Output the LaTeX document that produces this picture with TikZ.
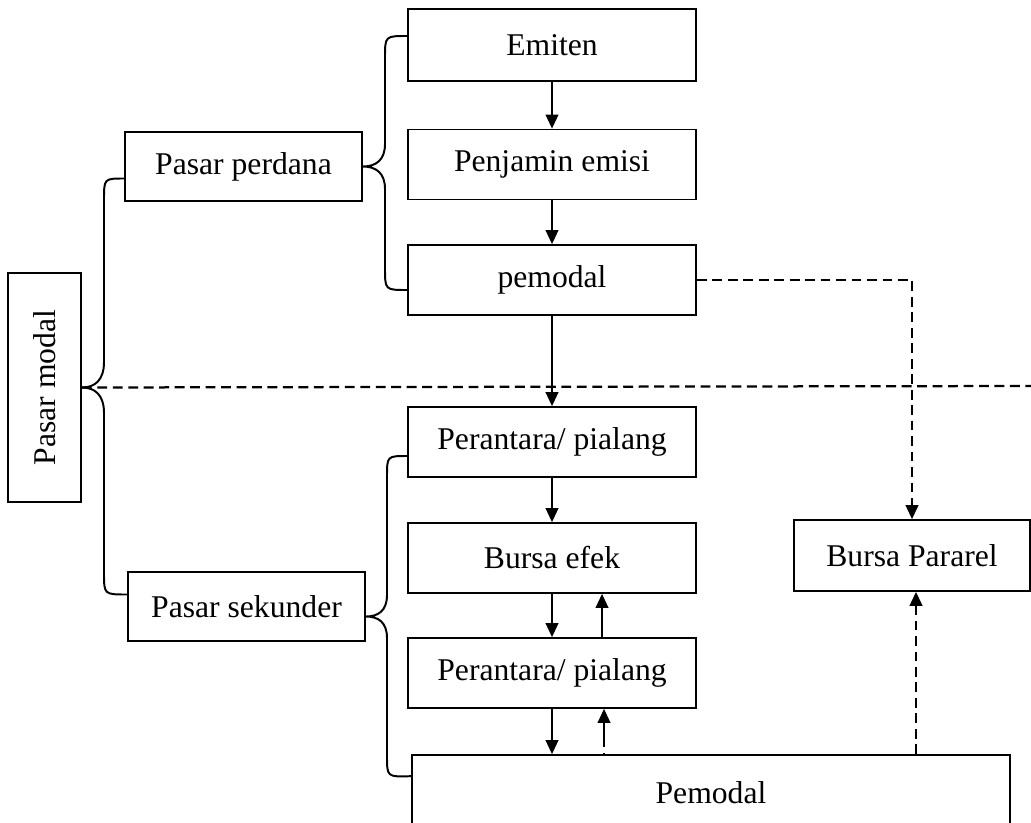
\documentclass[tikz,border=0pt]{standalone}
\usepackage{fontspec}
\setmainfont{Liberation Serif}
\usetikzlibrary{arrows.meta,positioning}

\tikzset{
kotak/.style = {draw, line width = 1.2pt, shape = rectangle, minimum width = 7.2cm, minimum height = 1.75cm, inner sep = 0pt, font = \fontsize{22.5pt}{26pt}\selectfont},
kepala/.style = {-{Triangle[length = 10pt, width = 9pt]}},
kurung/.style = {line width = 1.4pt},
panah/.style = {line width = 1.4pt, kepala},
putus/.style = {line width = 1.6pt, dash pattern = on 7pt off 4pt},
}

\begin{document}
\begin{tikzpicture}[x = 0.025cm, y = -0.025cm]
\useasboundingbox (0,0) rectangle (1031,822);
\clip (0,0) rectangle (1031,822);
\node[kotak, rotate = 90, minimum width = 5.725cm, minimum height = 1.825cm] (modal) at (44.5,387.5) {Pasar modal};
\node[kotak, minimum width = 5.925cm, minimum height = 1.725cm] (perdana) at (243.5,166.5) {Pasar perdana};
\node[kotak, minimum width = 5.925cm, minimum height = 1.725cm] (sekunder) at (246.5,606.5) {Pasar sekunder};
\node[kotak, minimum height = 1.8cm] (emiten) at (552,45) {Emiten};
\node[kotak] (penjamin) at (552,164.5) {Penjamin emisi};
\node[kotak] (pemodal) at (552,280) {pemodal};
\node[kotak] (perantara1) at (552,442) {Perantara/ pialang};
\node[kotak] (bursa) at (552,558) {Bursa efek};
\node[kotak] (perantara2) at (552,673) {Perantara/ pialang};
\node[kotak, minimum width = 14.95cm, minimum height = 1.875cm] (investor) at (711,792.5) {Pemodal};
\node[kotak, minimum width = 5.9cm, minimum height = 1.775cm] (pararel) at (912,555.5) {Bursa Pararel};
\coordinate (ujung) at (1031,386);

% kurung kurawal
\draw[kurung] ([yshift = -0.3cm]perdana.west) .. controls (104,178.5) .. (104,200) -- (104,362)
  .. controls (104,380) and (95,387.5) .. (modal.south)
  .. controls (95,387.5) and (104,395) .. (104,413) -- (104,573)
  .. controls (104,594.5) .. ([yshift = 0.3cm]sekunder.west);
\draw[kurung] ([yshift = 0.225cm]emiten.west) .. controls (385,36) .. (385,58) -- (385,144)
  .. controls (385,160) and (376,166.5) .. (perdana.east)
  .. controls (376,166.5) and (385,173) .. (385,189) -- (385,268)
  .. controls (385,290) .. ([yshift = -0.25cm]pemodal.west);
\draw[kurung] ([yshift = -0.35cm]perantara1.west) .. controls (387,456) .. (387,477) -- (387,595)
  .. controls (387,611) and (378,616.5) .. ([yshift = -0.25cm]sekunder.east)
  .. controls (378,616.5) and (387,622) .. (387,638) -- (387,756)
  .. controls (387,777) .. ([yshift = -0.55cm]investor.north west);

% garis putus
\draw[putus] (modal.south) -- (ujung);
\draw[putus, kepala] (pemodal.east) -| (pararel.north);
\draw[putus, kepala] ([xshift = 0.1cm]investor.north -| pararel.south) -- ([xshift = 0.1cm]pararel.south);

% panah
\draw[panah] (emiten) -- (penjamin);
\draw[panah] (penjamin) -- (pemodal);
\draw[panah] (pemodal) -- (perantara1);
\draw[panah] (perantara1) -- (bursa);
\draw[panah] (bursa) -- (perantara2);
\draw[panah] ([xshift = 1.25cm]perantara2.north) -- ([xshift = 1.25cm]bursa.south);
\draw[panah] (perantara2.south) -- (perantara2.south |- investor.north);
\draw[panah, dash pattern = on 1pt off 4pt on 40pt off 1pt] ([xshift = 1.3cm]perantara2.south |- investor.north) -- ([xshift = 1.3cm]perantara2.south);
\end{tikzpicture}
\end{document}
